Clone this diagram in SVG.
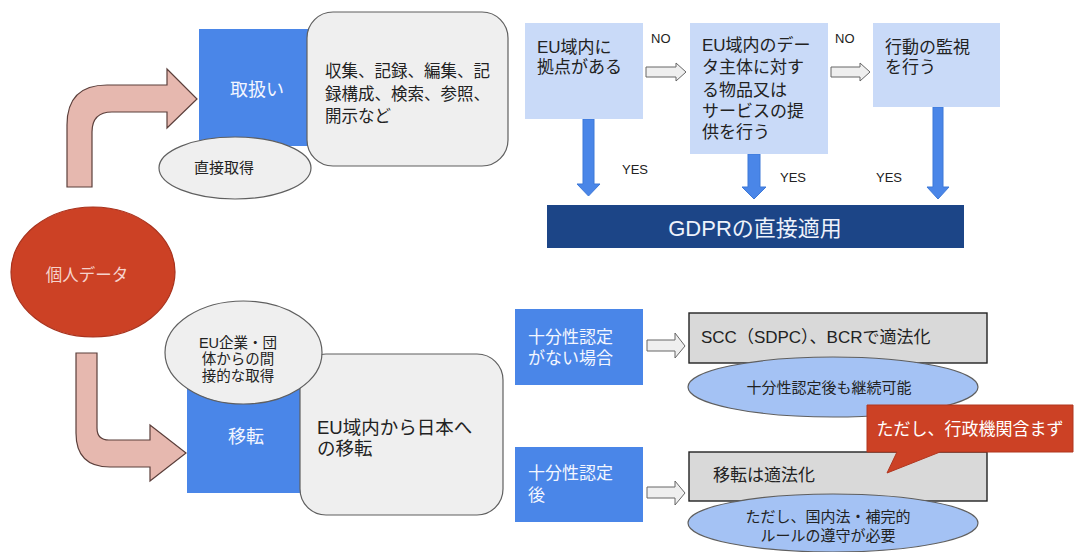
<svg xmlns="http://www.w3.org/2000/svg" width="1075" height="552" viewBox="0 0 1075 552">
<defs>
<style>
text{font-family:"Liberation Sans","Noto Sans CJK JP",sans-serif;fill:#222}
.blue{fill:#4a86e8}
.lb{fill:#c9daf8}
.gbox{fill:#efefef;stroke:#5f5f5f;stroke-width:1.2}
.gell{fill:#efefef;stroke:#5f5f5f;stroke-width:1.2}
.bell{fill:#a4c2f4;stroke:#5f5f5f;stroke-width:1.2}
.srect{fill:#d9d9d9;stroke:#222;stroke-width:1.4}
.pink{fill:#e6b8af;stroke:#5b3f3b;stroke-width:1.2}
.darr{fill:#4a86e8;stroke:#3c78d8;stroke-width:1}
.harr{fill:#efefef;stroke:#666;stroke-width:1}
.wt{fill:#f3f6ff}
.t17{font-size:17px}
.t16{font-size:16.5px}
.t15{font-size:15px}
.t13{font-size:13px}
</style>
</defs>
<rect width="1075" height="552" fill="#ffffff"/>

<g id="connectors">
<path class="pink" d="M67,187 L67,125 Q67,85 107,85 L167,85 L167,69 L197,99 L167,128 L167,112 L112,112 Q92,112 92,132 L92,187 Z"/>
<path class="pink" d="M76,353 L97,353 L97,428 Q97,440 109,440 L150,440 L150,425 L186,453 L150,481 L150,467 L110,467 Q76,467 76,433 Z"/>
<path class="harr" d="M646,67 L676,67 L676,63 L686,72 L676,81 L676,77 L646,77 Z"/>
<path class="harr" d="M831,67 L860,67 L860,63 L870,72 L860,81 L860,77 L831,77 Z"/>
<path class="darr" d="M583,119 L594,119 L594,184 L600,184 L588.5,196 L577,184 L583,184 Z"/>
<path class="darr" d="M748,154 L760,154 L760,187 L766,187 L754,199 L742,187 L748,187 Z"/>
<path class="darr" d="M933,107 L943,107 L943,187 L949,187 L938,199 L927,187 L933,187 Z"/>
<path class="harr" d="M647,340 L675,340 L675,333 L685,346 L675,358 L675,351 L647,351 Z"/>
<path class="harr" d="M647,487 L675,487 L675,481 L685,493 L675,505 L675,498 L647,498 Z"/>
<text class="t13" x="651" y="43">NO</text>
<text class="t13" x="835" y="43">NO</text>
<text class="t13" x="622" y="174">YES</text>
<text class="t13" x="780" y="182">YES</text>
<text class="t13" x="876" y="182">YES</text>
</g>

<g id="node-toriatsukai">
<rect class="blue" x="199" y="29" width="112" height="117"/>
<text class="wt" x="257" y="96" font-size="18" text-anchor="middle">取扱い</text>
</g>
<g id="node-toriatsukai-detail">
<rect class="gbox" x="307" y="12" width="201" height="154" rx="26"/>
<text class="t16" x="325" y="77">収集、記録、編集、記</text>
<text class="t16" x="325" y="100">録構成、検索、参照、</text>
<text class="t16" x="325" y="122">開示など</text>
</g>
<g id="node-chokusetsu">
<ellipse class="gell" cx="235" cy="168" rx="76" ry="31"/>
<text x="224" y="173" font-size="15" text-anchor="middle">直接取得</text>
</g>

<g id="node-kojin">
<ellipse cx="93" cy="272" rx="82" ry="65" fill="#cc4125" stroke="#a8321d" stroke-width="1.2"/>
<text x="87" y="281" font-size="16.5" text-anchor="middle" style="fill:#f6d2cc">個人データ</text>
</g>

<g id="node-iten">
<rect class="blue" x="187" y="378" width="118" height="115"/>
<text class="wt" x="246" y="443" font-size="18" text-anchor="middle">移転</text>
</g>
<g id="node-iten-detail">
<rect class="gbox" x="300" y="354" width="203" height="161" rx="26"/>
<text x="317" y="434" font-size="18.5">EU域内から日本へ</text>
<text x="317" y="455" font-size="18.5">の移転</text>
</g>
<g id="node-kansetsu">
<ellipse class="gell" cx="243.5" cy="352.5" rx="78.5" ry="51.5"/>
<text x="238" y="348" font-size="14.5" text-anchor="middle">EU企業・団</text>
<text x="238" y="364" font-size="14.5" text-anchor="middle">体からの間</text>
<text x="238" y="381" font-size="14.5" text-anchor="middle">接的な取得</text>
</g>

<g id="node-kyoten">
<rect class="lb" x="525" y="23" width="118" height="96"/>
<text class="t17" x="537" y="53">EU域内に</text>
<text class="t17" x="537" y="73">拠点がある</text>
</g>
<g id="node-teikyo">
<rect class="lb" x="690" y="23" width="138" height="131"/>
<text class="t17" x="702" y="51">EU域内のデー</text>
<text class="t17" x="702" y="73">タ主体に対す</text>
<text class="t17" x="702" y="96">る物品又は</text>
<text class="t17" x="702" y="117">サービスの提</text>
<text class="t17" x="702" y="138">供を行う</text>
</g>
<g id="node-kanshi">
<rect class="lb" x="873" y="23" width="127" height="84"/>
<text class="t17" x="885" y="53">行動の監視</text>
<text class="t17" x="885" y="73">を行う</text>
</g>
<g id="node-gdpr">
<rect x="547" y="205" width="417" height="43" fill="#1c4587"/>
<text x="755" y="236" font-size="22" text-anchor="middle" style="fill:#eef2fb">GDPRの直接適用</text>
</g>

<g id="node-nashi">
<rect class="blue" x="515" y="309" width="128" height="76"/>
<text class="wt t17" x="528" y="343">十分性認定</text>
<text class="wt t17" x="528" y="364">がない場合</text>
</g>
<g id="node-ato">
<rect class="blue" x="515" y="447" width="128" height="75"/>
<text class="wt t17" x="528" y="479">十分性認定</text>
<text class="wt t17" x="528" y="501">後</text>
</g>
<g id="node-scc">
<rect class="srect" x="689" y="313" width="298" height="50"/>
<text class="t17" x="701" y="343">SCC（SDPC）、BCRで適法化</text>
</g>
<g id="node-keizoku">
<ellipse class="bell" cx="833" cy="387" rx="145" ry="30"/>
<text class="t15" x="829" y="393" text-anchor="middle">十分性認定後も継続可能</text>
</g>
<g id="node-tekiho">
<rect class="srect" x="689" y="452" width="298" height="49"/>
<text class="t17" x="713" y="481">移転は適法化</text>
</g>
<g id="node-junshu">
<ellipse class="bell" cx="833" cy="523" rx="145" ry="29"/>
<text class="t15" x="828" y="522" text-anchor="middle">ただし、国内法・補完的</text>
<text class="t15" x="828" y="541" text-anchor="middle">ルールの遵守が必要</text>
</g>
<g id="node-callout">
<path d="M867,405 L1073,405 L1073,452 L940,452 L887,473 L897,452 L867,452 Z" fill="#cc4125" stroke="#b0361f" stroke-width="1"/>
<text x="970" y="435" font-size="17" text-anchor="middle" style="fill:#ffffff">ただし、行政機関含まず</text>
</g>
</svg>
